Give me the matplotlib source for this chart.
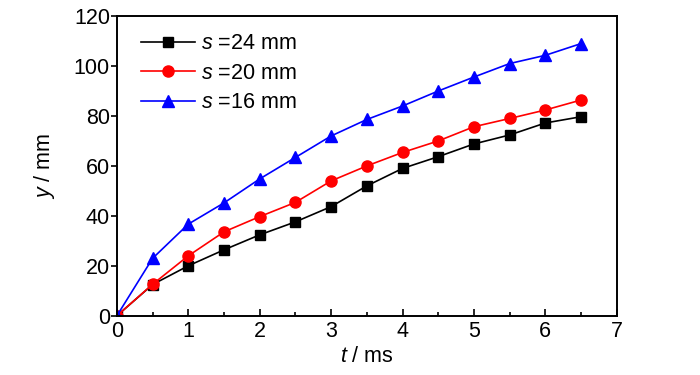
import matplotlib
matplotlib.use('Agg')
import matplotlib.pyplot as plt
from matplotlib.ticker import MultipleLocator

# data
t = [0, 0.5, 1, 1.5, 2, 2.5, 3, 3.5, 4, 4.5, 5, 5.5, 6, 6.5]
y_s24 = [0, 12.5, 20, 26.4, 32.4, 37.6, 43.7, 52, 59, 63.7, 68.8, 72.4, 77.2, 79.7]
y_s20 = [0, 12.6, 24, 33.6, 39.7, 45.4, 54, 60, 65.4, 70, 75.7, 79, 82.4, 86.4]
y_s16 = [0, 23, 36.7, 45.2, 54.8, 63.4, 72, 78.6, 84, 90, 95.6, 101, 104.3, 109]
labels = ['$s$ =24 mm', '$s$ =20 mm', '$s$ =16 mm']

plt.rcParams['font.family'] = ['Liberation Sans', 'DejaVu Sans']
plt.rcParams['mathtext.fontset'] = 'custom'
plt.rcParams['mathtext.it'] = 'Liberation Sans:italic'
plt.rcParams['mathtext.rm'] = 'Liberation Sans'

fig = plt.figure(figsize=(7, 3.75), dpi=100)
ax = fig.add_axes([0.167, 0.158, 0.714, 0.799])

ax.plot(t, y_s24, color='black', marker='s', markersize=7, lw=1.2, label=labels[0])
ax.plot(t, y_s20, color='red', marker='o', markersize=8, lw=1.2, label=labels[1])
ax.plot(t, y_s16, color='blue', marker='^', markersize=8.5, lw=1.2, label=labels[2])

ax.set_xlim(0, 7)
ax.set_ylim(0, 120)
ax.xaxis.set_major_locator(MultipleLocator(1))
ax.xaxis.set_minor_locator(MultipleLocator(0.5))
ax.yaxis.set_major_locator(MultipleLocator(20))
ax.tick_params(axis='x', which='major', direction='in', length=5, width=1.2, labelsize=15.5, pad=4)
ax.tick_params(axis='x', which='minor', direction='in', length=3, width=1.2)
ax.tick_params(axis='y', which='major', direction='out', length=4, width=1.2, labelsize=15.5, pad=1)
for sp in ax.spines.values():
    sp.set_linewidth(1.4)

ax.set_xlabel('$t$ / ms', fontsize=15.5, labelpad=3)
ax.set_ylabel('$y$ / mm', fontsize=15.5, labelpad=12)

ax.legend(loc='upper left', frameon=False, fontsize=15.5, handlelength=2.5,
          handletextpad=0.3, labelspacing=0.4, borderaxespad=0.6, bbox_to_anchor=(0.005, 1.015))

fig.savefig('out.png', dpi=100)
